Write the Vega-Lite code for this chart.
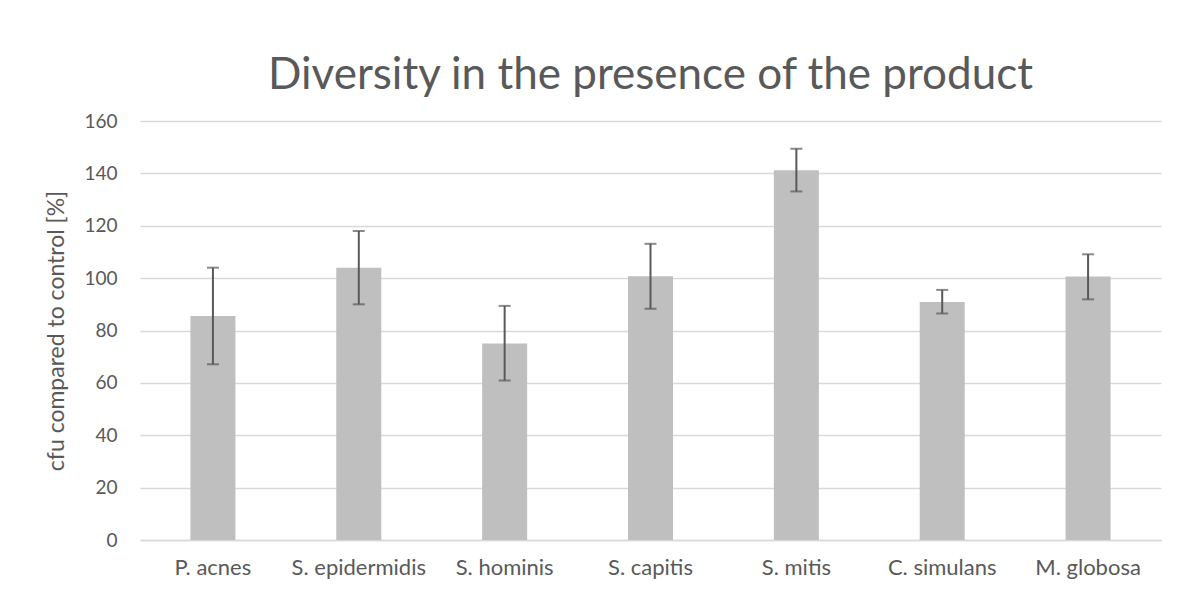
{
  "$schema": "https://vega.github.io/schema/vega-lite/v6.json",
  "width": 1186,
  "height": 595,
  "autosize": {"type": "fit", "contains": "padding"},
  "padding": {"left": 45, "top": 54, "right": 25, "bottom": 17},
  "background": "white",
  "config": {"view": {"stroke": null}, "font": "Lato"},
  "title": {
    "text": "Diversity in the presence of the product",
    "font": "Lato",
    "fontSize": 44,
    "fontWeight": "normal",
    "color": "#595959",
    "offset": 14,
    "anchor": "middle"
  },
  "data": {
    "values": [
      {"species": "P. acnes", "value": 85.5, "low": 67.1, "high": 104.0},
      {"species": "S. epidermidis", "value": 104.0, "low": 90.0, "high": 118.0},
      {"species": "S. hominis", "value": 75.0, "low": 60.9, "high": 89.4},
      {"species": "S. capitis", "value": 100.7, "low": 88.3, "high": 113.1},
      {"species": "S. mitis", "value": 141.2, "low": 133.1, "high": 149.4},
      {"species": "C. simulans", "value": 90.9, "low": 86.5, "high": 95.5},
      {"species": "M. globosa", "value": 100.6, "low": 91.9, "high": 109.1}
    ]
  },
  "encoding": {
    "x": {
      "field": "species",
      "type": "nominal",
      "sort": null,
      "scale": {"paddingInner": 0, "paddingOuter": 0},
      "axis": {
        "title": null,
        "labelAngle": 0,
        "labelFontSize": 22,
        "labelColor": "#595959",
        "labelPadding": 17,
        "ticks": false,
        "domainColor": "#d9d9d9",
        "domainWidth": 1.5,
        "grid": false
      }
    }
  },
  "layer": [
    {
      "mark": {"type": "bar", "width": 45, "color": "#bfbfbf"},
      "encoding": {
        "y": {
          "field": "value",
          "type": "quantitative",
          "scale": {"domain": [0, 160], "nice": false},
          "axis": {
            "values": [0, 20, 40, 60, 80, 100, 120, 140, 160],
            "title": "cfu compared to control [%]",
            "titleFontSize": 23,
            "titleFontWeight": "normal",
            "titleColor": "#595959",
            "titlePadding": 15,
            "labelFontSize": 19,
            "labelColor": "#595959",
            "labelPadding": 23,
            "ticks": false,
            "domain": false,
            "gridColor": "#d9d9d9",
            "gridWidth": 1.5
          }
        }
      }
    },
    {
      "mark": {"type": "rule", "color": "#595959", "strokeWidth": 2},
      "encoding": {
        "y": {"field": "low", "type": "quantitative"},
        "y2": {"field": "high"}
      }
    },
    {
      "mark": {"type": "tick", "color": "#595959", "size": 12, "thickness": 2},
      "encoding": {"y": {"field": "low", "type": "quantitative"}}
    },
    {
      "mark": {"type": "tick", "color": "#595959", "size": 12, "thickness": 2},
      "encoding": {"y": {"field": "high", "type": "quantitative"}}
    }
  ]
}
